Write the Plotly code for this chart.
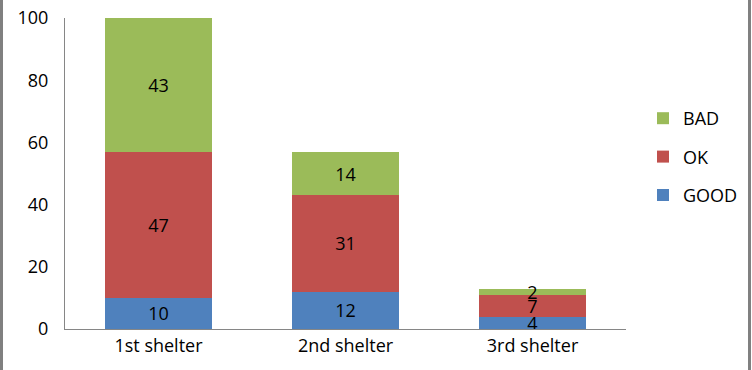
import plotly.graph_objects as go

categories = ["1st shelter", "2nd shelter", "3rd shelter"]
good = [10, 12, 4]
ok = [47, 31, 7]
bad = [43, 14, 2]
y_ticks = [0, 20, 40, 60, 80, 100]

FONT = "Open Sans"
FS = 18
fig = go.Figure()
for name, vals, color, rank in [("GOOD", good, "#4F81BD", 3), ("OK", ok, "#C0504D", 2), ("BAD", bad, "#9BBB59", 1)]:
    fig.add_trace(go.Bar(
        x=categories, y=vals, name=name, legendgroup=name, legendrank=rank,
        marker=dict(color=color, line=dict(width=0)),
        text=[str(v) for v in vals], textposition="inside", textangle=0,
        insidetextanchor="middle",
        textfont=dict(color="black", size=FS, family=FONT),
        cliponaxis=False,
    ))

W, H = 752, 370
L, R, T, B = 65, 126, 18, 41
pw = W - L - R
ph = H - T - B

fig.update_layout(
    width=W, height=H, barmode="stack", bargap=0.43,
    margin=dict(l=L, r=R, t=T, b=B, autoexpand=False),
    paper_bgcolor="white", plot_bgcolor="white",
    font=dict(family=FONT, size=FS, color="black"),
    uniformtext=dict(minsize=FS, mode="show"),
    showlegend=True,
    legend=dict(traceorder="grouped", tracegroupgap=12,
                x=(643 - L) / pw, xanchor="left", y=(329 - 157) / ph, yanchor="middle",
                font=dict(size=FS, family=FONT), itemwidth=30,
                bgcolor="rgba(0,0,0,0)"),
    xaxis=dict(showline=True, linecolor="#868686", linewidth=1, ticks="",
               showgrid=False, automargin=False, tickfont=dict(size=FS)),
    yaxis=dict(range=[0, 100], tickvals=y_ticks, showline=True, linecolor="#868686",
               linewidth=1, ticks="", showgrid=False, zeroline=False, automargin=False,
               tickfont=dict(size=FS), ticklabelstandoff=12),
    shapes=[
        dict(type="line", xref="paper", yref="paper",
             x0=(1.5 - L) / pw, x1=(1.5 - L) / pw, y0=-B / ph - 0.01, y1=1 + T / ph + 0.01,
             line=dict(color="#808080", width=3)),
        dict(type="line", xref="paper", yref="paper",
             x0=(749.5 - L) / pw, x1=(749.5 - L) / pw, y0=-B / ph - 0.01, y1=1 + T / ph + 0.01,
             line=dict(color="#808080", width=3)),
    ],
)

fig.write_html("out.html", config={"displayModeBar": False},
               post_script="document.body.style.margin='0';")
